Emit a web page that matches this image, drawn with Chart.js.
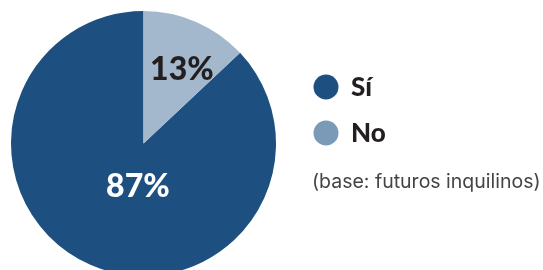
<!DOCTYPE html>
<html>
<head>
<meta charset="utf-8">
<script src="https://cdn.jsdelivr.net/npm/chart.js@4"></script>
<style>
  html, body { margin: 0; padding: 0; background: #fff; overflow: hidden; }
  #wrap { position: relative; width: 543px; height: 290px; }
</style>
</head>
<body>
<div id="wrap"><canvas id="pie"></canvas></div>
<script>
const labels = ["Sí", "No"];
const values = [87, 13];
const sliceColors = ["#1d5080", "#a3b8cc"];
const legendColors = ["#1d5080", "#7a9ab7"];
const labelColors = ["#ffffff", "#231f20"];
const note = "(base: futuros inquilinos)";

// posición de las etiquetas dentro de cada porción
const labelRadius = [0.33, 0.63];
const labelTurn = [-16, 4]; // grados respecto al centro de la porción

const FONT = "Lato, Inter, sans-serif";

const sliceLabels = {
  id: "sliceLabels",
  afterDatasetsDraw(chart) {
    const ctx = chart.ctx;
    const arcs = chart.getDatasetMeta(0).data;
    ctx.save();
    ctx.font = "900 32px " + FONT;
    ctx.textAlign = "center";
    ctx.textBaseline = "middle";
    arcs.forEach(function(arc, i) {
      const mid = (arc.startAngle + arc.endAngle) / 2 + labelTurn[i] * Math.PI / 180;
      const r = arc.outerRadius * labelRadius[i];
      ctx.fillStyle = labelColors[i];
      ctx.fillText(values[i] + "%", arc.x + Math.cos(mid) * r, arc.y + Math.sin(mid) * r);
    });
    ctx.restore();
  }
};

const sideLegend = {
  id: "sideLegend",
  afterDraw(chart) {
    const ctx = chart.ctx;
    const x0 = 326;
    const rowY = [87, 133];
    ctx.save();
    labels.forEach(function(lab, i) {
      ctx.beginPath();
      ctx.arc(x0, rowY[i], 12.5, 0, Math.PI * 2);
      ctx.fillStyle = legendColors[i];
      ctx.fill();
      ctx.font = "900 26px " + FONT;
      ctx.fillStyle = "#231f20";
      ctx.textAlign = "left";
      ctx.textBaseline = "middle";
      ctx.fillText(lab, 351, rowY[i] + 1);
    });
    ctx.font = "19.5px Inter, sans-serif";
    ctx.fillStyle = "#444444";
    ctx.textBaseline = "middle";
    ctx.fillText(note, 312, 182);
    ctx.restore();
  }
};

new Chart(document.getElementById("pie"), {
  type: "pie",
  data: {
    labels: labels,
    datasets: [{
      data: values,
      backgroundColor: sliceColors,
      borderWidth: 0
    }]
  },
  options: {
    responsive: true,
    maintainAspectRatio: false,
    animation: false,
    rotation: values[1] * 3.6,
    layout: { padding: { left: 11, top: 11, right: 267, bottom: 14 } },
    plugins: {
      legend: { display: false },
      tooltip: { enabled: false }
    }
  },
  plugins: [sliceLabels, sideLegend]
});
</script>
</body>
</html>
